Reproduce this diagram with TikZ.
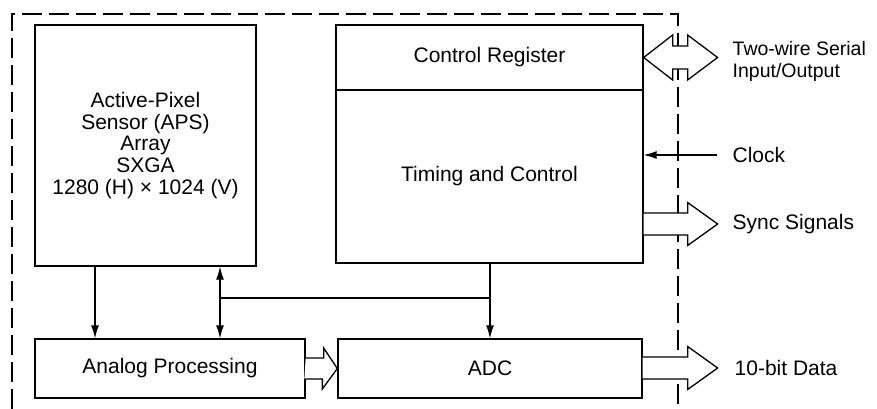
\documentclass[tikz,border=0pt]{standalone}
\usepackage{fontspec}
\setmainfont{Liberation Sans}
\usetikzlibrary{arrows.meta}
\tikzset{
  blk/.style={draw, line width=1.3pt, align=center, inner sep=0pt},
  bus/.style={draw, fill=white, line width=1.3pt, line join=miter},
  lbl/.style={anchor=west, align=left, inner sep=0pt},
}
\begin{document}
\begin{tikzpicture}[x=1pt, y=-1pt, >={Latex[length=13pt,width=8pt]}, line width=1.3pt,
  font=\fontsize{21}{21.7}\selectfont]
\useasboundingbox (0,0) rectangle (877,409);
% chip boundary
\draw[dash pattern=on 20pt off 7pt] (12,409) -- (12,14) -- (678,14) -- (678,409);
% blocks
\node[blk, minimum width=221pt, minimum height=241pt] (aps) at (145.5,145.5)
  {Active-Pixel\\Sensor (APS)\\Array\\SXGA\\1280 (H) × 1024 (V)};
\node[blk, minimum width=307pt, minimum height=65pt] (creg) at (489.5,57.5) {Control Register};
\node[blk, minimum width=307pt, minimum height=173pt] (timing) at (489.5,176.5) {Timing and Control};
\node[blk, minimum width=270pt, minimum height=59pt] (analog) at (170,368.5) {Analog Processing};
\node[blk, minimum width=304pt, minimum height=59pt] (adc) at (490,368.5) {ADC};
% outside labels
\node[lbl, font=\fontsize{19.5}{22}\selectfont] (serial) at (732,61) {Two-wire Serial\\Input/Output};
\node[lbl] (clock) at (732,155) {Clock};
\node[lbl] (sync) at (732,224) {Sync Signals};
\node[lbl] (data) at (734,368) {10-bit Data};
% signal lines
\coordinate (tapA) at (95,300);
\coordinate (tapB) at (220,298);
\coordinate (tapC) at (490,298);
\draw[->] (aps.south -| tapA) -- (analog.north -| tapA);
\draw[<->] (aps.south -| tapB) -- (analog.north -| tapB);
\draw (tapB) -- (tapC);
\draw[->] (timing.south -| tapC) -- (adc.north -| tapC);
\draw[->] ([xshift=-15pt]clock.west) -- (timing.east |- clock.west);
% buses
\draw[bus] (analog.east) ++(0,-10.5) -- ++(18,0) -- ++(0,-10) -- (adc.west)
  -- ++(-15,20.5) -- ++(0,-10) -- ++(-18,0);
\draw[bus] (creg.east) -- ++(29,-22.5) -- ++(0,11) -- ++(15,0) -- ++(0,-11) -- ++(30,22.5)
  -- ++(-30,22.5) -- ++(0,-11) -- ++(-15,0) -- ++(0,11) -- cycle;
\draw[bus] (timing.east |- sync.west) ++(0,-11) -- ++(44,0) -- ++(0,-10.5) -- ++(30,21.5)
  -- ++(-30,21.5) -- ++(0,-10.5) -- ++(-44,0);
\draw[bus] (adc.east |- data.west) ++(0,-11) -- ++(45,0) -- ++(0,-10.5) -- ++(30,21.5)
  -- ++(-30,21.5) -- ++(0,-10.5) -- ++(-45,0);
\end{tikzpicture}
\end{document}
